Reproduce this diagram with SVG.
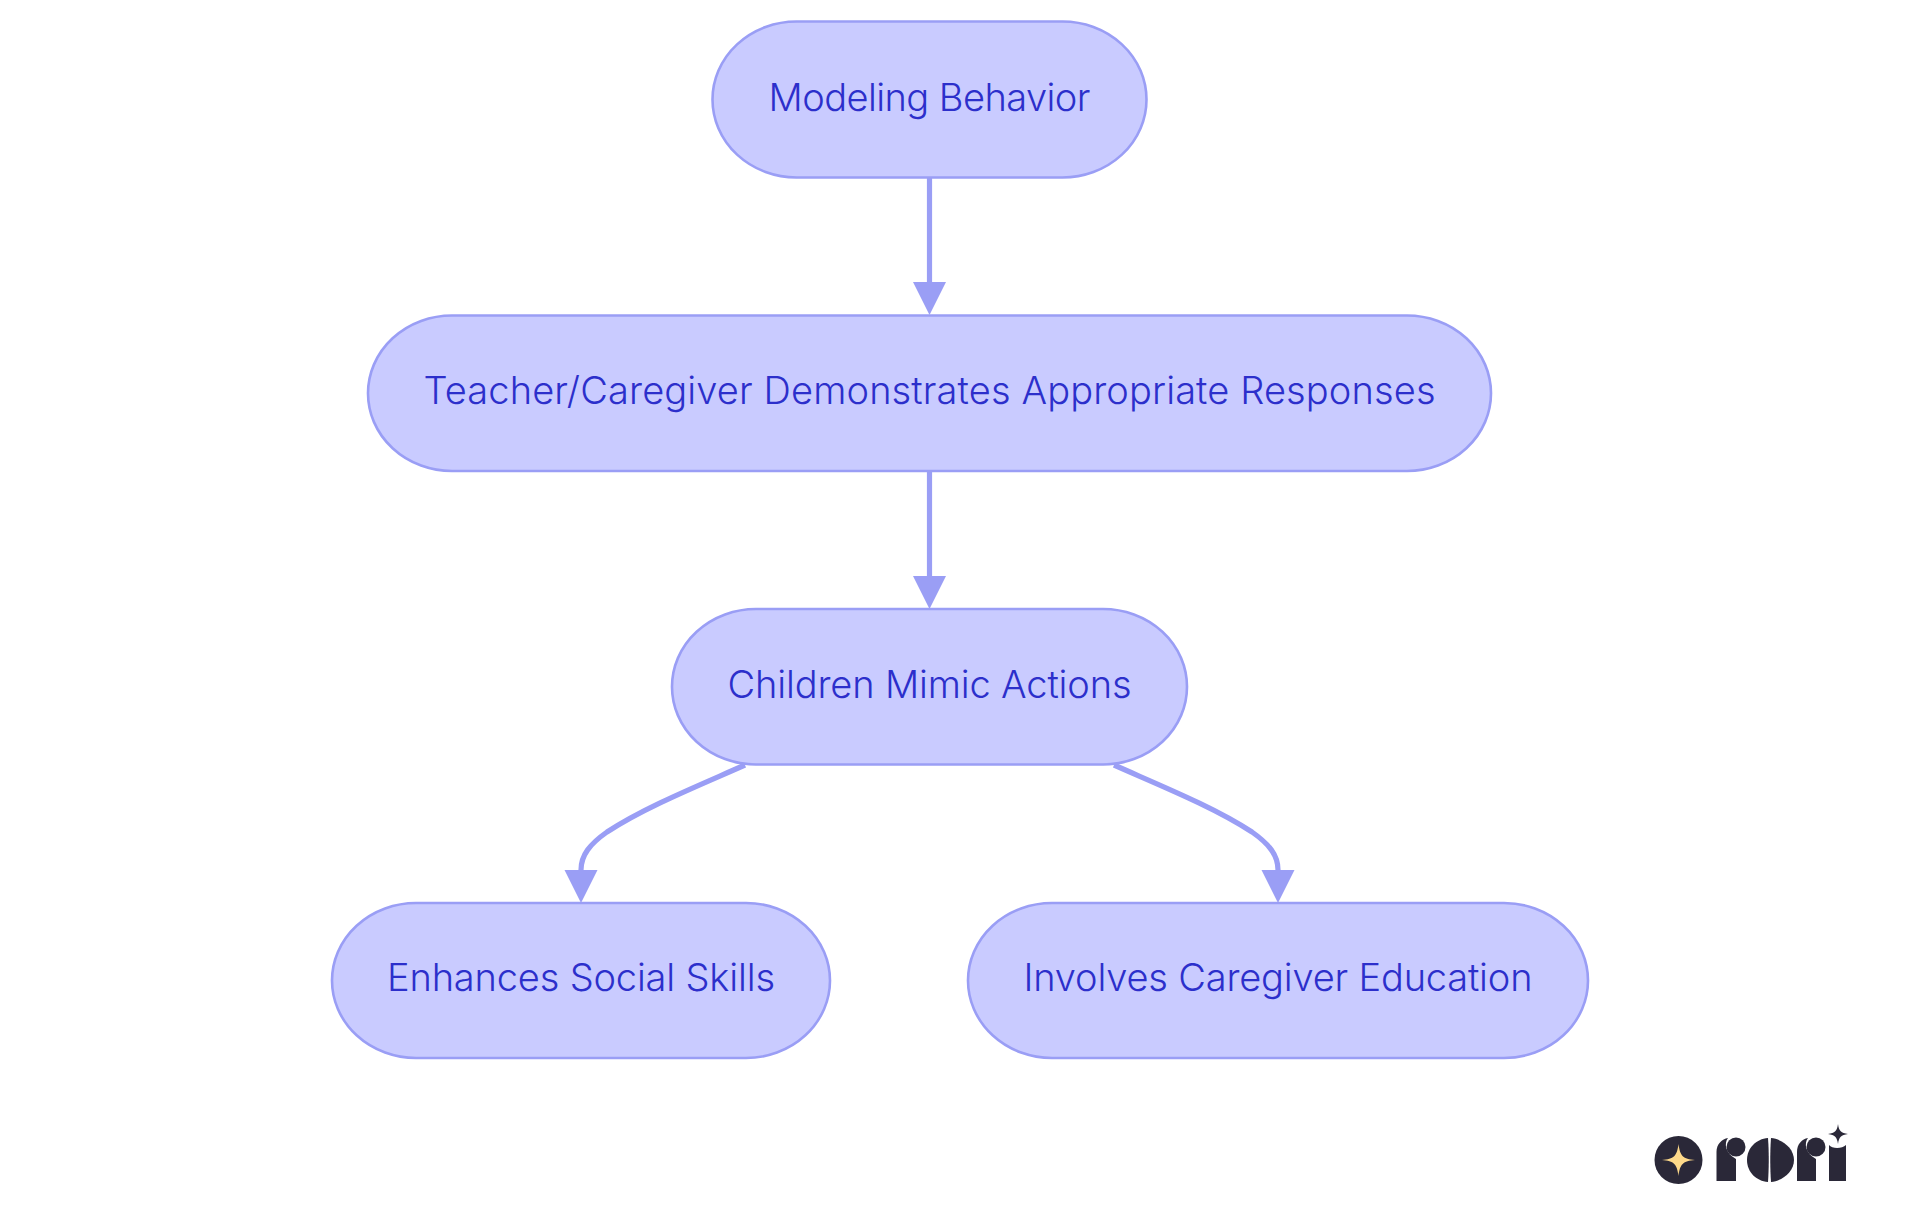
<svg xmlns="http://www.w3.org/2000/svg" width="1920" height="1215" viewBox="0 0 1920 1215">
<style>
.n{fill:#c9cbff;stroke:#9a9ef5;stroke-width:2.6}
.t{font-family:Inter,"Liberation Sans",sans-serif;font-size:38px;font-weight:300;fill:#2c2fcb;text-anchor:middle}
.e{fill:none;stroke:#9a9ef5;stroke-width:5.2}
.h{fill:#9a9ef5}
.k{fill:#2a2838}
</style>
<defs>
<marker id="a" markerUnits="userSpaceOnUse" markerWidth="34" markerHeight="34" refX="0" refY="17" orient="auto" viewBox="0 0 34 34" overflow="visible"><path class="h" d="M0 0.500L33 17L0 33.500Z"/></marker>
</defs>
<rect width="1920" height="1215" fill="#fff"/>
<g id="connectors">
<path class="e" d="M929.5 177V282" marker-end="url(#a)" id="e1"/>
<path class="e" d="M929.5 471V576" marker-end="url(#a)" id="e2"/>
<path class="e" d="M745 765C700 785 645 807 607 832C590 844 581 855 581 870" marker-end="url(#a)" id="e3"/>
<path class="e" d="M1114 765C1159 785 1214 807 1252 832C1269 844 1278 855 1278 870" marker-end="url(#a)" id="e4"/>
</g>
<g id="n1"><rect class="n" x="712.500" y="21.500" width="434" height="156" rx="84" ry="78"/><text class="t" x="929.500" y="110.500" textLength="322">Modeling Behavior</text></g>
<g id="n2"><rect class="n" x="368" y="315.500" width="1123" height="155.500" rx="84" ry="78"/><text class="t" x="929.500" y="403.500" textLength="1012">Teacher/Caregiver Demonstrates Appropriate Responses</text></g>
<g id="n3"><rect class="n" x="672" y="609" width="515" height="155.500" rx="84" ry="78"/><text class="t" x="929.500" y="697.500" textLength="404">Children Mimic Actions</text></g>
<g id="n4"><rect class="n" x="332" y="903" width="498" height="155" rx="84" ry="78"/><text class="t" x="581" y="991" textLength="388">Enhances Social Skills</text></g>
<g id="n5"><rect class="n" x="968" y="903" width="620" height="155" rx="84" ry="78"/><text class="t" x="1278" y="991" textLength="509">Involves Caregiver Education</text></g>
<g id="logo">
<circle class="k" cx="1678.500" cy="1160" r="24"/>
<path fill="#fdd98a" d="M1678.500 1144C1680 1156 1683 1159 1695 1160C1683 1161 1680 1164 1678.500 1176C1677 1164 1674 1161 1662 1160C1674 1159 1677 1156 1678.500 1144Z"/>
<path class="k" d="M1716.500 1181V1152C1716.500 1144 1722 1139 1728 1138C1724 1143 1725 1153 1736 1159V1181Z"/>
<circle class="k" cx="1736" cy="1147" r="9.500"/>
<path class="k" d="M1768 1138C1756 1139 1747 1148 1747 1160C1747 1172 1756 1181 1768 1182C1769 1168 1769 1151 1768 1138Z"/>
<path class="k" d="M1771 1138C1782 1139 1794 1148 1794 1160C1794 1172 1782 1181 1771 1182C1770 1168 1770 1151 1771 1138Z"/>
<path class="k" d="M1797 1181V1152C1797 1144 1802 1139 1808 1138C1804 1143 1805 1153 1816 1159V1181Z"/>
<circle class="k" cx="1816" cy="1147" r="9.500"/>
<path class="k" d="M1829 1181V1145C1832 1149 1842 1149 1846 1145V1181Z"/>
<path class="k" d="M1838 1124C1839 1131 1841 1133 1848 1134C1841 1135 1839 1137 1838 1144C1837 1137 1835 1135 1828 1134C1835 1133 1837 1131 1838 1124Z"/>
</g>
</svg>
